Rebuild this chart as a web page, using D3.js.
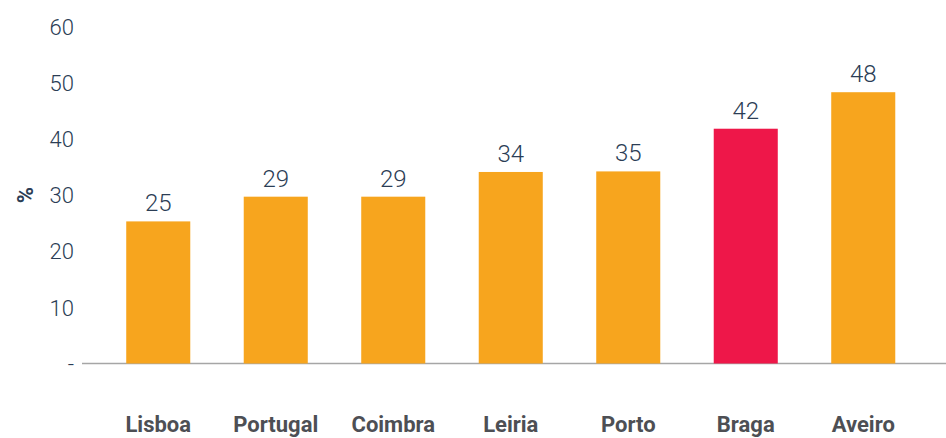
<!DOCTYPE html>
<html><head><meta charset="utf-8">
<script src="https://cdn.jsdelivr.net/npm/d3@7"></script>
<style>body{margin:0;background:#fff}svg{display:block}</style>
</head><body><svg id="c" width="946" height="438"></svg>
<script>
const categories = ["Lisboa","Portugal","Coimbra","Leiria","Porto","Braga","Aveiro"];
const values = [25.3, 29.7, 29.7, 34.1, 34.2, 41.8, 48.3];
const valueLabels = ["25","29","29","34","35","42","48"];
const highlight = ["Braga"];
const yTicks = [0,10,20,30,40,50,60];
const yTickLabels = ["-","10","20","30","40","50","60"];
const yTitle = "%";

const svg = d3.select("#c");
const W = 946, H = 438;
const x = d3.scaleBand().domain(categories).range([99.5, 922]).paddingInner(0.455).paddingOuter(0.2275);
const y = d3.scaleLinear().domain([0,60]).range([363.5, 26.5]);
const font = "Roboto, 'Open Sans', sans-serif";

svg.append("line").attr("x1",82).attr("x2",W).attr("y1",y(0)).attr("y2",y(0))
  .attr("stroke","#a6a6a6").attr("stroke-width",1.5);

svg.selectAll("rect.bar").data(categories).join("rect").attr("class","bar")
  .attr("x",d=>x(d)).attr("width",x.bandwidth())
  .attr("y",(d,i)=>y(values[i])).attr("height",(d,i)=>y(0)-y(values[i]))
  .attr("fill",d=>highlight.includes(d)?"#EE1749":"#F7A51E");

svg.selectAll("text.val").data(categories).join("text").attr("class","val")
  .attr("x",d=>x(d)+x.bandwidth()/2).attr("y",(d,i)=>y(values[i])-10)
  .attr("text-anchor","middle").attr("font-family",font).attr("font-size",24)
  .attr("font-weight",300).attr("fill","#2b3d55").text((d,i)=>valueLabels[i]);

const yAxis = d3.axisLeft(y).tickValues(yTicks).tickSize(0).tickPadding(0)
  .tickFormat((d,i)=>yTickLabels[i]);
const gy = svg.append("g").attr("transform","translate(74,0)").call(yAxis);
gy.select(".domain").remove();
gy.selectAll("text").attr("font-family",font).attr("font-size",22).attr("font-weight",300)
  .attr("fill","#2b3d55").attr("dy","0.35em");

const xAxis = d3.axisBottom(x).tickSize(0).tickPadding(0);
const gx = svg.append("g").attr("transform","translate(0,432)").call(xAxis);
gx.select(".domain").remove();
gx.selectAll("text").attr("dy",0).attr("font-family",font).attr("font-size",22).attr("font-weight",700)
  .attr("fill","#4d4f54");

svg.append("text").attr("transform",`translate(33,${y(30)}) rotate(-90)`)
  .attr("text-anchor","middle").attr("font-family",font).attr("font-size",22).attr("font-weight",700)
  .attr("fill","#2b3d55").text(yTitle);
</script></body></html>
